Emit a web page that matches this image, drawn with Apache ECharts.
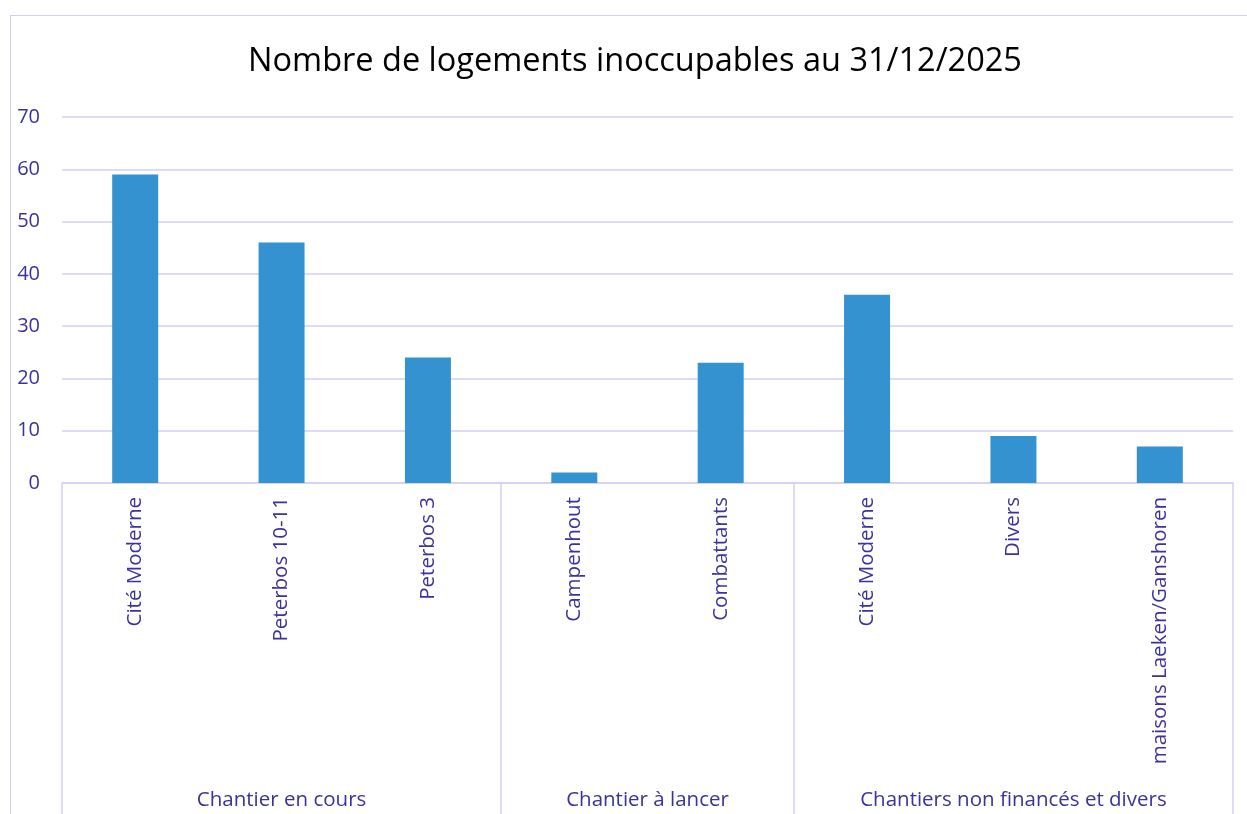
<!DOCTYPE html>
<html>
<head>
<meta charset="utf-8">
<script src="https://cdn.jsdelivr.net/npm/echarts@6/dist/echarts.min.js"></script>
<style>
  html, body { margin: 0; padding: 0; background: #ffffff; overflow: hidden; }
  #chart {
    position: absolute; left: 10px; top: 15px;
    width: 1250px; height: 820px;
    border: 1.5px solid #d3cff2; box-sizing: border-box;
  }
</style>
</head>
<body>
<div id="chart"></div>
<script>
// data
const categories = ["Cité Moderne", "Peterbos 10-11", "Peterbos 3", "Campenhout", "Combattants", "Cité Moderne", "Divers", "maisons Laeken/Ganshoren"];
const values = [59, 46, 24, 2, 23, 36, 9, 7];
const group_names = ["Chantier en cours", "Chantier à lancer", "Chantiers non financés et divers"];
const group_sizes = [3, 2, 3];
const y_ticks = [0, 10, 20, 30, 40, 50, 60, 70];

const TEXT_COLOR = "#3a339a";
const GRID_COLOR = "#d3cff2";
const FONT = "'Open Sans', 'Noto Sans', sans-serif";

// group boundaries and centres on a 0..n scale
const bounds = [0];
group_sizes.forEach((n) => bounds.push(bounds[bounds.length - 1] + n));
const centres = group_sizes.map((n, i) => bounds[i] + n / 2);

const chart = echarts.init(document.getElementById("chart"), null, { renderer: "canvas" });

chart.setOption({
    animation: false,
    title: {
        text: "Nombre de logements inoccupables au 31/12/2025",
        left: "center",
        top: 24,
        textStyle: { fontFamily: FONT, fontSize: 32.5, fontWeight: "normal", color: "#000000" },
    },
    grid: { left: 51, top: 101, width: 1171, height: 366 },
    xAxis: [
        {
            type: "category",
            data: categories,
            axisLine: { lineStyle: { color: GRID_COLOR, width: 1.5 } },
            axisTick: { show: false },
            axisLabel: {
                rotate: 90,
                interval: 0,
                margin: 14,
                color: TEXT_COLOR,
                fontFamily: FONT,
                fontSize: 20.5,
            },
        },
        {
            // group level: separators and group names
            type: "value",
            position: "bottom",
            min: 0,
            max: categories.length,
            axisLine: { show: false },
            splitLine: { show: false },
            axisTick: {
                show: true,
                customValues: bounds,
                length: 335,
                lineStyle: { color: GRID_COLOR, width: 1.5 },
            },
            axisLabel: {
                customValues: centres,
                margin: 307,
                color: TEXT_COLOR,
                fontFamily: FONT,
                fontSize: 20.5,
                formatter: (v) => group_names[centres.indexOf(v)] ?? "",
            },
        },
    ],
    yAxis: {
        type: "value",
        min: y_ticks[0],
        max: y_ticks[y_ticks.length - 1],
        interval: 10,
        axisLine: { show: false },
        axisTick: { show: false },
        splitLine: { lineStyle: { color: GRID_COLOR, width: 1.5 } },
        axisLabel: { margin: 22, color: TEXT_COLOR, fontFamily: FONT, fontSize: 20 },
    },
    series: [
        {
            type: "bar",
            xAxisIndex: 0,
            data: values,
            barWidth: 46,
            itemStyle: { color: "#3592d0" },
        },
    ],
});
</script>
</body>
</html>
